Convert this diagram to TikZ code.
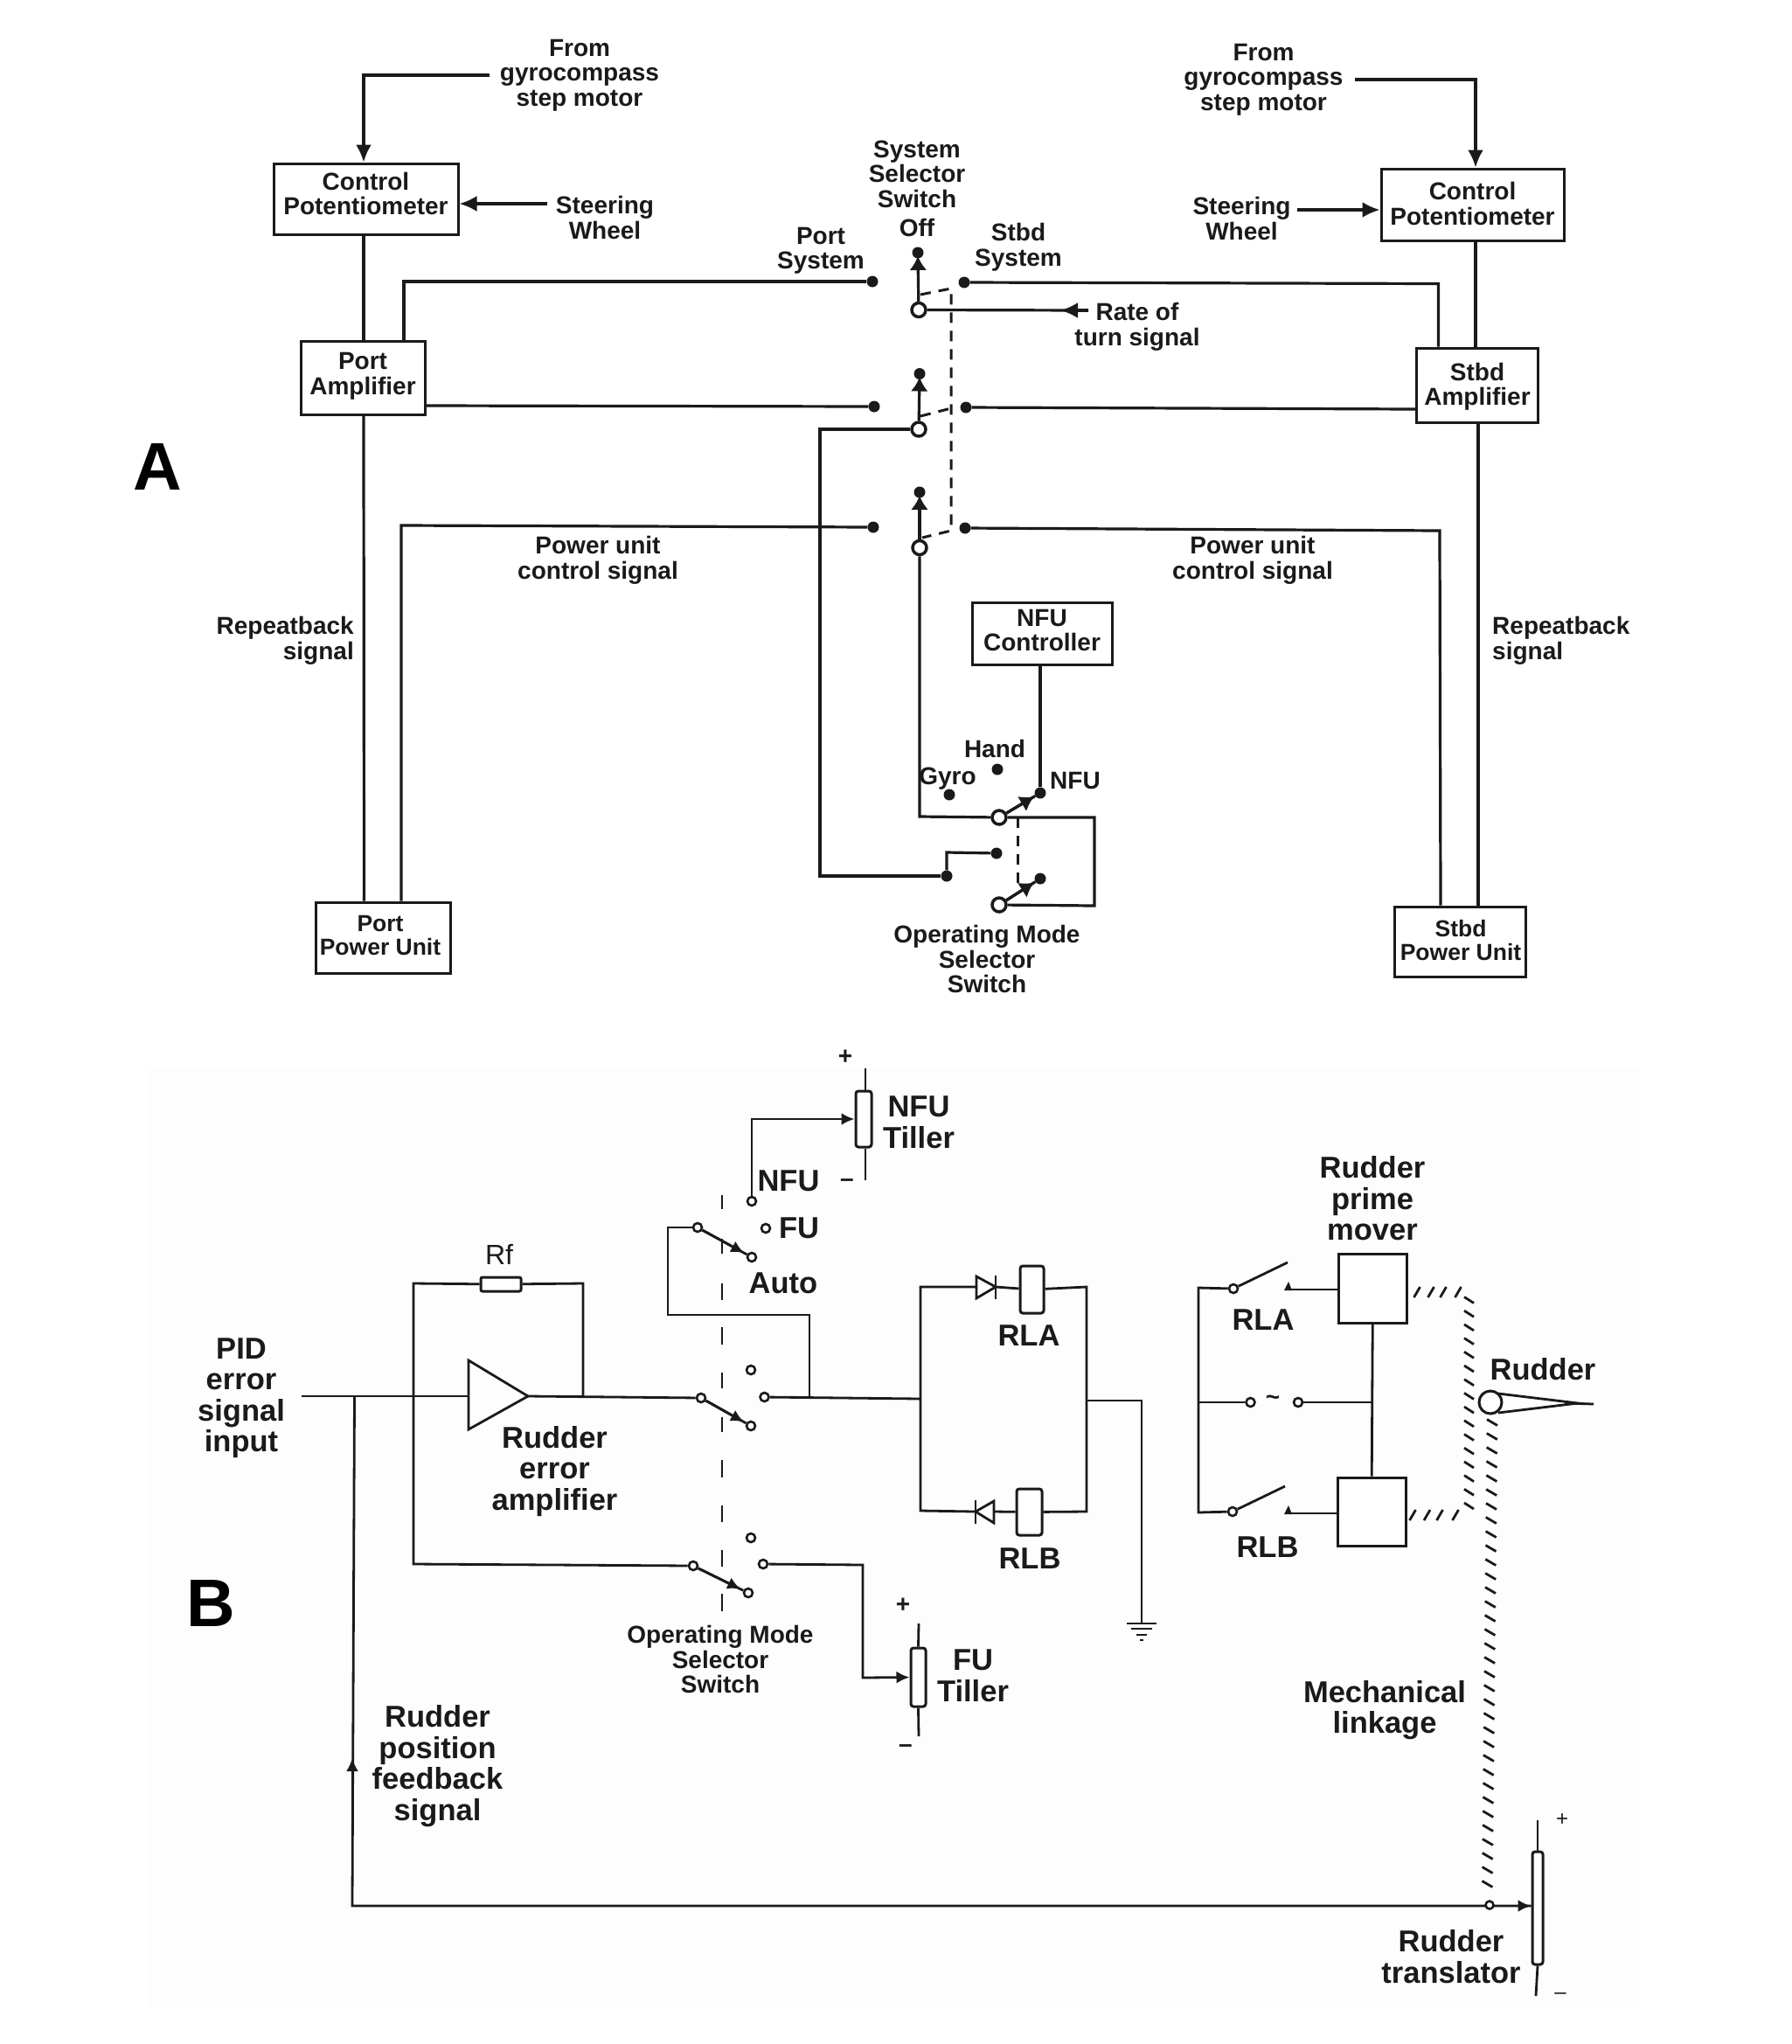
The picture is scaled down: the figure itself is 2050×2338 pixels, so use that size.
\documentclass[tikz,border=0pt]{standalone}
\usepackage{fontspec}
\setmainfont{Liberation Sans}
\usetikzlibrary{arrows.meta,calc}
\definecolor{ink}{HTML}{1A1A1A}
\definecolor{paperb}{HTML}{FDFDFD}
\tikzset{
  lab/.style={inner sep=0pt,align=center,text=ink,font=\fontsize{28}{28.5}\selectfont\bfseries},
  labn/.style={lab,font=\fontsize{26.5}{27.5}\selectfont\bfseries},
  labr/.style={lab,align=right,anchor=east},
  labl/.style={lab,align=left,anchor=west},
  labb/.style={inner sep=0pt,align=center,text=ink,font=\fontsize{34.5}{35.5}\selectfont\bfseries},
  big/.style={inner sep=0pt,text=black,font=\fontsize{77}{77}\selectfont\bfseries},
  boxa/.style={draw=ink,line width=3pt,fill=white,inner sep=0pt},
  boxb/.style={draw=ink,line width=3pt,fill=white,inner sep=0pt},
  coil/.style={draw=ink,line width=3pt,fill=white,inner sep=0pt,rounded corners=3pt},
  wire/.style={draw=ink,line width=3.2pt,line join=miter},
  wireb/.style={draw=ink,line width=2.8pt,line join=miter},
  tipa/.style={-{Latex[length=20pt,width=18pt]}},
  tipblade/.style={-{Latex[length=16pt,width=20pt]}},
  tipb/.style={-{Latex[length=15pt,width=14pt]}},
  dashlink/.style={draw=ink,line width=3pt,dash pattern=on 12pt off 9pt},
  dashb/.style={draw=ink,line width=2.6pt},
  cdot/.style={circle,fill=ink,inner sep=0pt,minimum size=13pt},
  pivot/.style={circle,draw=ink,line width=3.5pt,fill=white,inner sep=0pt,minimum size=16pt},
  smc/.style={circle,draw=ink,line width=2.6pt,fill=white,inner sep=0pt,minimum size=10pt},
  hatch/.style={draw=ink,line width=2.8pt}
}
\begin{document}
\begin{tikzpicture}[x=1pt,y=-1pt]
\useasboundingbox (0,0) rectangle (2050,2338);
\fill[white] (0,0) rectangle (2050,2338);
\fill[paperb] (167,1222) rectangle (1877,2298);

% ---------- Part A ----------
\node[big] (bigA) at (180.5,534) {A};
\node[lab] (fromL) at (663,86) {From\\gyrocompass\\step motor};
\node[lab] (fromR) at (1445.5,91) {From\\gyrocompass\\step motor};
\node[lab] (steerL) at (692,249) {Steering\\Wheel};
\node[lab] (steerR) at (1420.5,250) {Steering\\Wheel};
\node[lab] (sysSel) at (1049,199) {System\\Selector\\Switch};
\node[lab] (off) at (1049,260.5) {Off};
\node[lab] (portSys) at (939,287) {Port\\System};
\node[lab] (stbdSys) at (1165,283) {Stbd\\System};
\node[lab] (rate) at (1301,374) {Rate of\\turn signal};
\node[lab] (pwrL) at (684,641) {Power unit\\control signal};
\node[lab] (pwrR) at (1433,641) {Power unit\\control signal};
\node[labr] (repL) at (405,733) {Repeatback\\signal};
\node[labl] (repR) at (1707,733) {Repeatback\\signal};
\node[lab] (hand) at (1138,856) {Hand};
\node[lab] (gyro) at (1084,891) {Gyro};
\node[lab] (nfuA) at (1230,893) {NFU};
\node[lab] (opA) at (1129,1097) {Operating Mode\\Selector\\Switch};

\node[boxa,minimum width=211pt,minimum height=81pt,label={[lab,yshift=6pt]center:Control\\Potentiometer}] (cpl) at (418.5,227.5) {};
\node[boxa,minimum width=209pt,minimum height=82pt,label={[lab,yshift=1pt]center:Control\\Potentiometer}] (cpr) at (1684.5,234) {};
\node[boxa,minimum width=142pt,minimum height=84pt,label={[lab,yshift=1.5pt]center:Port\\Amplifier}] (pal) at (415,432) {};
\node[boxa,minimum width=139pt,minimum height=85pt,label={[lab,yshift=-2pt]center:Stbd\\Amplifier}] (sal) at (1690,440.5) {};
\node[boxa,minimum width=154pt,minimum height=81pt,label={[labn,xshift=-3pt,yshift=2.5pt]center:Port\\Power Unit}] (ppu) at (438,1072.5) {};
\node[boxa,minimum width=150pt,minimum height=80pt,label={[labn,xshift=1pt,yshift=1.5pt]center:Stbd\\Power Unit}] (spu) at (1670,1077) {};
\node[boxa,minimum width=160pt,minimum height=70.5pt,label={[lab,yshift=4pt]center:NFU\\Controller}] (nfu) at (1192,725) {};

\coordinate (gl) at (560,86);
\coordinate (gr) at (1550,91);
\coordinate (swl) at (626,233);
\coordinate (swr) at (1484,240);
\coordinate (rt) at (1245,355);

\foreach \n/\x/\y in {pd1/998/322,sd1/1103/323,pd2/1000/465,sd2/1105/466,pd3/999/603,sd3/1104/604,s1o/1050/289,s2o/1052/427.5,s3o/1052/563,gdot/1086/909,hdot/1141/880,ndot/1190/907,gc/1083/1002,lc/1140/976,ld/1190/1005}
  \node[cdot] (\n) at (\x,\y) {};

\draw[wire,tipa] (gl) -- (416,86) -- ([xshift=-2.5pt]cpl.north);
\draw[wire,tipa] (swl) -- ([yshift=-5.5pt]cpl.east);
\draw[wire] ([xshift=-2.5pt]cpl.south) -- ([xshift=1pt]pal.north);
\draw[wire] ([xshift=47pt]pal.north) -- (462,322) -- (pd1);
\draw[wire] ([yshift=-32pt]pal.east) -- (pd2);
\draw[wire] ([xshift=1pt]pal.south) -- ([xshift=-21.5pt]ppu.north);
\draw[wire] ([xshift=21pt]ppu.north) -- (459,601) -- (pd3);
\draw[wire,tipa] (gr) -- (1688,91) -- ([xshift=3.5pt]cpr.north);
\draw[wire,tipa] (swr) -- ([yshift=-6pt]cpr.west);
\draw[wire] ([xshift=3.5pt]cpr.south) -- ([xshift=-2pt]sal.north);
\draw[wire] ([xshift=-44.5pt]sal.north) -- (1645.5,324.5) -- (sd1);
\draw[wire] (sd2) -- ([yshift=-27.5pt]sal.west);
\draw[wire] ([xshift=1pt]sal.south) -- ([xshift=21pt]spu.north);
\draw[wire] ([xshift=-22pt]spu.north) -- (1647,607) -- (sd3);
\draw[wire] ([xshift=-2pt]nfu.south) -- (ndot);

\node[pivot] (s1p) at (1051,354.5) {};
\node[pivot] (s2p) at (1051,491) {};
\node[pivot] (s3p) at (1052,626.5) {};
\node[pivot] (op1) at (1143,935) {};
\node[pivot] (op2) at (1143,1035) {};

\draw[dashlink] (1053,337) -- (1088,330) -- (1088,607) -- (1055,615);
\draw[dashlink] (1053,476) -- (1088,467);
\draw[dashlink] (1164,935) -- (1164,1012);

\draw[wire,tipblade] (s1p) -- ([yshift=-4pt]s1o.center);
\draw[wire,tipblade] (s2p) -- ([yshift=-4pt]s2o.center);
\draw[wire,tipblade] (s3p) -- ([yshift=-4pt]s3o.center);
\draw[wire] (rt) -- (s1p);
\draw[wire,tipa] (rt) -- (1213,355);
\draw[wire] (s2p) -- (938,491) -- (938,1002) -- (gc);
\draw[wire] (lc) -- (1083,975) -- (gc);
\draw[wire] (s3p) -- (1052,934) -- (op1);
\draw[wire] (op1) -- (1252,935) -- (1252,1036) -- (op2);
\draw[wire,tipblade] (op1) -- ($(op1)!0.85!(ndot)$);
\draw[wire,tipblade] (op2) -- ($(op2)!0.85!(ld)$);
\draw[wire] (op1) -- (ndot);
\draw[wire] (op2) -- (ld);

% ---------- Part B ----------
\node[big] (bigB) at (241,1834) {B};
\node[labb] (pid) at (276,1599) {PID\\error\\signal\\input};
\node[labb] (amplab) at (634.5,1683) {Rudder\\error\\amplifier};
\node[labb] (fbsig) at (500.5,2020) {Rudder\\position\\feedback\\signal};
\node[inner sep=0pt,text=ink,font=\fontsize{32}{32}\selectfont] (rflab) at (571,1435) {Rf};
\node[labb] (nfulab) at (902,1351) {NFU};
\node[labb] (fulab) at (914,1405) {FU};
\node[labb] (autolab) at (896,1468) {Auto};
\node[labb] (nfutil) at (1051,1284) {NFU\\Tiller};
\node[labb] (futil) at (1113,1917) {FU\\Tiller};
\node[labb] (rlaA) at (1177,1528) {RLA};
\node[labb] (rlbA) at (1178,1783) {RLB};
\node[labb] (rlaB) at (1445,1510) {RLA};
\node[labb] (rlbB) at (1450,1770) {RLB};
\node[labb] (prime) at (1570,1371) {Rudder\\prime\\mover};
\node[labb] (rudlab) at (1765,1566) {Rudder};
\node[labb] (mech) at (1584,1956) {Mechanical\\linkage};
\node[labb] (translab) at (1660,2238) {Rudder\\translator};
\node[lab] (opB) at (824,1898) {Operating Mode\\Selector\\Switch};
\node[lab] (plus1) at (967,1209) {+};
\node[lab] (minus1) at (969,1353) {–};
\node[lab] (plus2) at (1033,1836) {+};
\node[lab] (minus2) at (1036,2000) {–};
\node[inner sep=0pt,text=ink,font=\fontsize{24}{24}\selectfont] (plus3) at (1787,2082) {+};
\node[inner sep=0pt,text=ink,font=\fontsize{24}{24}\selectfont] (minus3) at (1785,2283) {–};

% dashed mechanical link of the mode selector
\foreach \a/\b in {1367/1383,1417/1434,1468/1487,1518/1538,1570/1588,1621/1638,1670/1690,1722/1741,1773/1792,1823/1843}
  \draw[dashb] (826,\a) -- (826,\b);

\coordinate (pidin) at (345,1597);
\coordinate (ampi) at (536,1597);
\coordinate (ampo) at (604,1597);
\coordinate (fbj) at (405.5,1597);

\node[boxb,minimum width=46pt,minimum height=16pt,rounded corners=2pt] (rf) at (573,1469) {};
\node[coil,minimum width=18pt,minimum height=64pt] (nfupot) at (988,1280) {};
\node[coil,minimum width=17pt,minimum height=67pt] (fupot) at (1050.5,1918.5) {};
\node[coil,minimum width=27pt,minimum height=54pt] (coilA) at (1180.5,1475) {};
\node[coil,minimum width=29pt,minimum height=53pt] (coilB) at (1177.5,1729.5) {};
\node[coil,minimum width=12pt,minimum height=129pt] (trans) at (1759,2182.5) {};
\node[boxb,minimum width=78pt,minimum height=79pt] (moverA) at (1570.5,1473.5) {};
\node[boxb,minimum width=78pt,minimum height=78pt] (moverB) at (1569,1729) {};
\node[circle,draw=ink,line width=3pt,fill=white,inner sep=0pt,minimum size=26pt] (rud) at (1705,1604) {};

\foreach \n/\x/\y in {pa/798/1404,ae/860/1438,nc/860/1374,fc/876/1405,mb/802/1599,me/859/1631,mc/859/1567,md/874.5/1598,mf/793/1791,mg/856/1822,mh/859/1759,mi/873/1789,ra/1411/1474,rb/1410/1729,ac1/1430.5/1604,ac2/1485/1604}
  \node[smc] (\n) at (\x,\y) {};

% amplifier and feedback network
\draw[wireb] (pidin) -- (ampi);
\draw[wireb] (536,1556) -- (536,1635) -- (ampo) -- cycle;
\draw[wireb] (ampo) -- (mb);
\draw[wireb] (rf) -- (473,1468) -- (473,1789) -- (mf);
\draw[wireb] (rf) -- (667,1468) -- (667,1598);
\draw[wireb] (trans.west |- 0,2180) -- (403,2180) -- (fbj);
\draw[wireb,tipb] (403,2040) -- (403,2011);
\draw[wireb,tipb] (1720,2180) -- (trans.west |- 0,2180);

% mode selector
\draw[wireb] (pa) -- (ae);
\draw[wireb,tipb] (pa) -- ($(pa)!0.86!(ae)$);
\draw[wireb] (mb) -- (me);
\draw[wireb,tipb] (mb) -- ($(mb)!0.86!(me)$);
\draw[wireb] (mf) -- (mg);
\draw[wireb,tipb] (mf) -- ($(mf)!0.86!(mg)$);
\draw[wireb] (pa) -- (764,1404) -- (764,1504) -- (926,1504) -- (926,1599);
\draw[wireb,tipb] (nc) -- (860,1280) -- ([yshift=0pt]nfupot.west);
\draw[wireb] (990,1222) -- ([xshift=2pt]nfupot.north);
\draw[wireb] ([xshift=2pt]nfupot.south) -- (990,1350);
\draw[wireb] (md) -- (1053,1600);
\draw[wireb,tipb] (mi) -- (987,1790) -- (987,1919) -- (fupot.west);
\draw[wireb] (1051,1857) -- (fupot.north);
\draw[wireb] (fupot.south) -- (1051,1986);

% relay network
\draw[wireb] (1117,1472) -- (1053,1472) -- (1053,1728) -- (1116,1729);
\draw[wireb] (1117,1460) -- (1117,1485) -- (1139,1472) -- cycle;
\draw[wireb] (1139,1459) -- (1139,1486);
\draw[wireb] (1139,1472) -- (coilA);
\draw[wireb] (coilA) -- (1243,1472) -- (1243,1729) -- (coilB);
\draw[wireb] (1137,1717) -- (1137,1742) -- (1116,1729) -- cycle;
\draw[wireb] (1116,1716) -- (1116,1743);
\draw[wireb] (1137,1729) -- (coilB);
\draw[wireb] (1243,1602) -- (1306,1602) -- (1306,1857);
\draw[wireb] (1289,1857) -- (1323,1857);
\draw[wireb] (1294,1863) -- (1318,1863);
\draw[wireb] (1300,1870) -- (1312,1870);
\draw[wireb] (1304,1876) -- (1308,1876);

% prime mover supply
\draw[wireb] (ra) -- (1371,1473) -- (1371,1730) -- (rb);
\draw[wireb] (1371,1604) -- (ac1);
\draw[wireb] (ac2) -- (1569,1604);
\draw[wireb] (moverA) -- (moverB);
\node[boxb,minimum width=78pt,minimum height=79pt] (moverA) at (1570.5,1473.5) {};
\node[boxb,minimum width=78pt,minimum height=78pt] (moverB) at (1569,1729) {};
\node[inner sep=0pt,text=ink,font=\fontsize{28}{28}\selectfont\bfseries] (tilde) at (1456,1602) {\char126};
\draw[wireb] (ra) -- (1473,1444);
\draw[wireb] (rb) -- (1470,1700);
\draw[wireb] (moverA.west |- 0,1475) -- (1472,1475);
\draw[wireb] (moverB.west |- 0,1731) -- (1472,1731);
\fill[ink] (1474,1466) -- (1478,1476) -- (1469,1476) -- cycle;
\fill[ink] (1474,1722) -- (1478,1732) -- (1469,1732) -- cycle;

% rudder and mechanical linkage
\draw[wireb] (1714,1594) -- (1805,1605) -- (1714,1616);
\draw[wireb] (1790,1605) -- (1823,1606);
\foreach \x in {1621,1637,1651,1668} \draw[hatch] (\x-3.5,1484) -- (\x+3.5,1472);
\foreach \x in {1616,1632.5,1647,1665} \draw[hatch] (\x-3.5,1739) -- (\x+3.5,1727);
\foreach \i [evaluate=\i as \yy using 1487+15.7*\i] in {0,...,15}
  \draw[hatch] (1675,\yy-3.5) -- (1686,\yy+3.5);
\foreach \i [evaluate=\i as \yy using 1627+16*\i, evaluate=\i as \xx using 1707-0.17*\i] in {0,...,33}
  \draw[hatch] (\xx-6,\yy-3.5) -- (\xx+6,\yy+3.5);
\node[smc,minimum size=9pt] (link) at (1704,2179) {};
\draw[wireb] (1759,2082) -- ([xshift=0pt]trans.north);
\draw[wireb] (trans.south) -- (1757,2283);
\end{tikzpicture}
\end{document}
